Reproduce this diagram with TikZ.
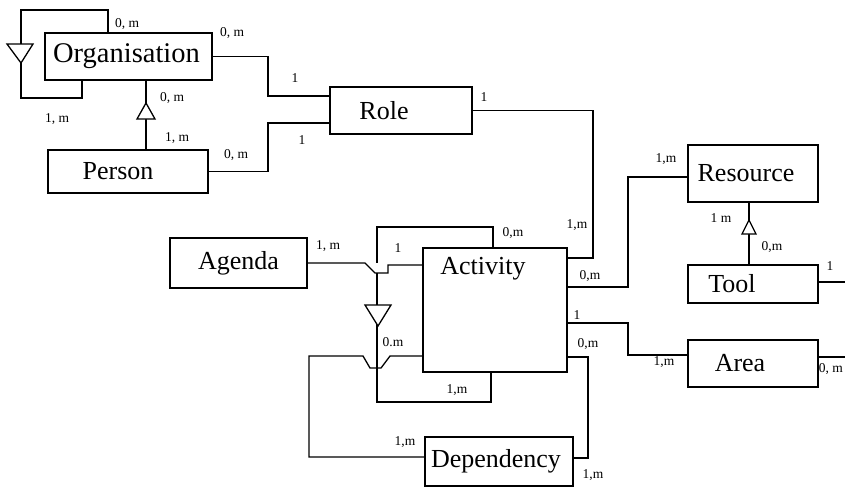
\documentclass[tikz,border=0pt]{standalone}
\usepackage{fontspec}
\setmainfont{Liberation Serif}
\begin{document}
\begin{tikzpicture}[x=1pt,y=-1pt,
  box/.style={draw, line width=2.2pt, inner sep=0pt, outer sep=0pt, font=\fontsize{26}{26}\selectfont},
  boxtext/.style={inner sep=0pt, font=\fontsize{26}{26}\selectfont},
  conn/.style={line width=1.3pt, line join=miter},
  lbl/.style={inner sep=0pt, font=\fontsize{13.5}{13.5}\selectfont},
  tri/.style={draw, fill=white, line width=1.3pt, line join=miter}]
\useasboundingbox (0,0) rectangle (845,488);
\clip (0,0) rectangle (845,488);
\fill[white] (0,0) rectangle (845,488);

% boxes
\node[box, minimum width=167pt, minimum height=47pt, font=\fontsize{28.5}{28.5}\selectfont] (org) at (128.5,56.5) {Organisation\hspace*{4pt}};
\node[box, minimum width=160pt, minimum height=43pt] (person) at (128,171.5) {Person\hspace*{20pt}};
\node[box, minimum width=142pt, minimum height=47pt] (role) at (401,110.5) {Role\hspace*{34pt}};
\node[box, minimum width=137pt, minimum height=50pt] (agenda) at (238.5,263) {Agenda};
\node[box, minimum width=144pt, minimum height=124pt] (act) at (495,310) {};
\node[boxtext] (acttext) at (483,269) {Activity};
\node[box, minimum width=148pt, minimum height=49pt] (dep) at (499,461.5) {Dependency\hspace*{6pt}};
\node[box, minimum width=130pt, minimum height=57pt] (res) at (753,173.5) {Resource\hspace*{14pt}};
\node[box, minimum width=130pt, minimum height=38pt] (tool) at (753,284) {Tool\hspace*{42pt}};
\node[box, minimum width=130pt, minimum height=47pt] (area) at (753,363.5) {Area\hspace*{26pt}};
\coordinate (toolend) at (850,282);
\coordinate (areaend) at (850,357);

% Organisation self loop
\draw[conn] (108,0 |- org.north) -- (108,10) -- (21,10) -- (21,98) -- (82,98) -- (82,0 |- org.south);
\draw[tri] (7,44) -- (33,44) -- (21,63) -- cycle;

% Organisation - Person
\draw[conn] (146,0 |- org.south) -- (146,0 |- person.north);
\draw[tri] (146,103) -- (155,119) -- (137,119) -- cycle;

% to Role
\draw[conn] (org.east) -- (268,0 |- org.east) -- (268,96) -- (role.west |- 0,96);
\draw[conn] (person.east) -- (268,0 |- person.east) -- (268,123) -- (role.west |- 0,123);
\draw[conn] (role.east) -- (593,0 |- role.east) -- (593,258) -- (act.east |- 0,258);

% Activity self loop
\draw[conn] (493,0 |- act.north) -- (493,227) -- (377,227) -- (377,263);
\draw[conn] (377,273) -- (377,402) -- (491,402) -- (491,0 |- act.south);
\draw[tri] (365,305) -- (391,305) -- (378,326) -- cycle;

% Agenda - Activity
\draw[conn] (agenda.east) -- (365,263) -- (375,273) -- (388,273) -- (388,265) -- (act.west |- 0,265);

% Dependency loop
\draw[conn] (dep.west |- 0,457) -- (309,457) -- (309,356) -- (363,356) -- (370,368) -- (381,368) -- (390,356) -- (act.west |- 0,356);

% right side
\draw[conn] (act.east |- 0,287) -- (628,287) -- (628,177) -- (res.west |- 0,177);
\draw[conn] (act.east |- 0,323) -- (628,323) -- (628,355) -- (area.west |- 0,355);
\draw[conn] (act.east |- 0,357) -- (588,357) -- (588,458) -- (dep.east |- 0,458);
\draw[conn] (749,0 |- res.south) -- (749,0 |- tool.north);
\draw[tri] (749,220) -- (756,234) -- (742,234) -- cycle;
\draw[conn] (tool.east |- toolend) -- (toolend);
\draw[conn] (area.east |- areaend) -- (areaend);

% labels
\node[lbl] (l1) at (127,24) {0, m};
\node[lbl] (l2) at (232,33) {0, m};
\node[lbl] (l3) at (57,119) {1, m};
\node[lbl] (l4) at (172,98) {0, m};
\node[lbl] (l5) at (177,138) {1, m};
\node[lbl] (l6) at (236,155) {0, m};
\node[lbl] (l7) at (295,78) {1};
\node[lbl] (l8) at (302,140) {1};
\node[lbl] (l9) at (484,97) {1};
\node[lbl] (l10) at (577,225) {1,m};
\node[lbl] (l11) at (513,233) {0,m};
\node[lbl] (l12) at (328,246) {1, m};
\node[lbl] (l13) at (398,248) {1};
\node[lbl] (l14) at (393,342) {0.m};
\node[lbl] (l15) at (457,390) {1,m};
\node[lbl] (l16) at (405,442) {1,m};
\node[lbl] (l17) at (590,276) {0,m};
\node[lbl] (l18) at (666,159) {1,m};
\node[lbl] (l19) at (721,218) {1 m};
\node[lbl] (l20) at (772,247) {0,m};
\node[lbl] (l21) at (830,266) {1};
\node[lbl] (l22) at (577,315) {1};
\node[lbl] (l23) at (588,344) {0,m};
\node[lbl] (l24) at (664,362) {1,m};
\node[lbl, anchor=east] (l25) at (843,369) {0, m};
\node[lbl] (l26) at (593,475) {1,m};
\end{tikzpicture}
\end{document}
